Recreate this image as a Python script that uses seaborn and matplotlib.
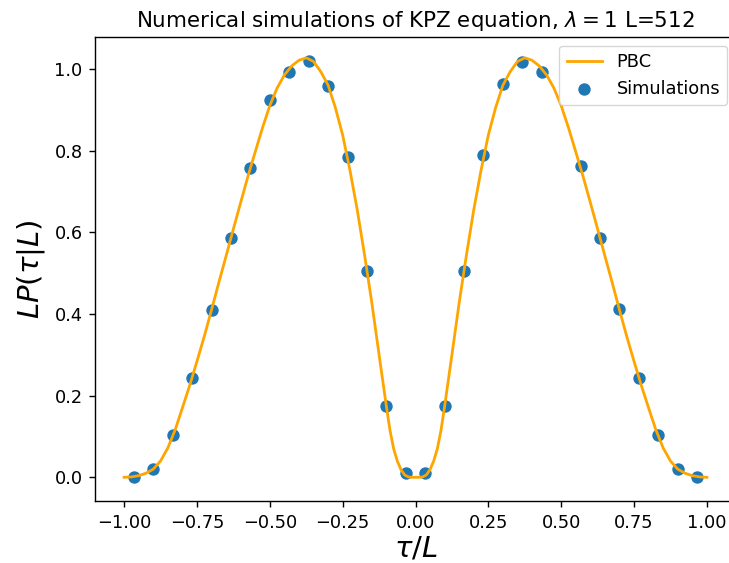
import matplotlib
matplotlib.use("Agg")
import matplotlib.pyplot as plt
import numpy as np
import seaborn as sn

# PBC prediction curve (denser near the zero dip)
tau_curve = [-1.000, -0.975, -0.950, -0.925, -0.900, -0.875, -0.850, -0.825, -0.800, -0.775,
             -0.750, -0.725, -0.700, -0.675, -0.650, -0.625, -0.600, -0.575, -0.550, -0.525,
             -0.500, -0.475, -0.450, -0.425, -0.400, -0.375, -0.350, -0.325, -0.300, -0.275,
             -0.250, -0.225, -0.200, -0.175, -0.150, -0.125, -0.1125, -0.100, -0.0875, -0.075,
             -0.0625, -0.050, -0.0375, -0.025, -0.0125, 0.000, 0.0125, 0.025, 0.0375, 0.050,
             0.0625, 0.075, 0.0875, 0.100, 0.1125, 0.125, 0.150, 0.175, 0.200, 0.225,
             0.250, 0.275, 0.300, 0.325, 0.350, 0.375, 0.400, 0.425, 0.450, 0.475,
             0.500, 0.525, 0.550, 0.575, 0.600, 0.625, 0.650, 0.675, 0.700, 0.725,
             0.750, 0.775, 0.800, 0.825, 0.850, 0.875, 0.900, 0.925, 0.950, 0.975, 1.000]
p_curve = [0.000, 0.001, 0.004, 0.010, 0.020, 0.040, 0.072, 0.116, 0.170, 0.225,
           0.284, 0.345, 0.410, 0.477, 0.542, 0.608, 0.673, 0.737, 0.797, 0.856,
           0.910, 0.953, 0.985, 1.007, 1.021, 1.027, 1.018, 0.993, 0.960, 0.905,
           0.838, 0.752, 0.655, 0.545, 0.428, 0.300, 0.237, 0.174, 0.115, 0.070,
           0.040, 0.019, 0.006, 0.001, 0.000, 0.000, 0.000, 0.001, 0.006, 0.019,
           0.040, 0.070, 0.115, 0.174, 0.237, 0.300, 0.428, 0.545, 0.655, 0.752,
           0.838, 0.905, 0.960, 0.993, 1.018, 1.027, 1.021, 1.007, 0.985, 0.953,
           0.910, 0.856, 0.797, 0.737, 0.673, 0.608, 0.542, 0.477, 0.410, 0.345,
           0.284, 0.225, 0.170, 0.116, 0.072, 0.040, 0.020, 0.010, 0.004, 0.001, 0.000]

# simulation points (the one near 0.5 sits under the legend and is not visible)
tau_sim = [-0.967, -0.900, -0.833, -0.767, -0.700, -0.633, -0.567, -0.500, -0.433, -0.367,
           -0.300, -0.233, -0.167, -0.100, -0.033, 0.033, 0.100, 0.167, 0.233, 0.300,
           0.367, 0.433, 0.567, 0.633, 0.700, 0.767, 0.833, 0.900, 0.967]
p_sim = [0.000, 0.020, 0.103, 0.242, 0.409, 0.587, 0.758, 0.924, 0.993, 1.020,
         0.959, 0.785, 0.506, 0.174, 0.011, 0.011, 0.174, 0.506, 0.788, 0.962,
         1.018, 0.992, 0.761, 0.585, 0.411, 0.244, 0.103, 0.020, 0.000]

xticks = [-1.0, -0.75, -0.5, -0.25, 0.0, 0.25, 0.5, 0.75, 1.0]
yticks = [0.0, 0.2, 0.4, 0.6, 0.8, 1.0]

fig = plt.figure(figsize=(7.29, 5.63), dpi=100)
ax = fig.add_axes([95 / 729, 62 / 563, 641 / 729, 464 / 563])

sn.lineplot(x=tau_curve, y=p_curve, color='orange', linewidth=2.0, label='PBC', ax=ax, sort=False)
sn.scatterplot(x=tau_sim, y=p_sim, color='#1f77b4', s=80, linewidth=0, label='Simulations', ax=ax)

ax.set_xlim(-1.1, 1.1)
ax.set_ylim(-0.058, 1.078)
ax.set_xticks(xticks)
ax.set_xticklabels([('%.2f' % t).replace('-', '\u2212') for t in xticks])
ax.set_yticks(yticks)
ax.set_yticklabels(['%.1f' % t for t in yticks])
ax.tick_params(labelsize=12.8, length=4.5, width=1.0, pad=4.5)
for sp in ax.spines.values():
    sp.set_linewidth(1.0)

ax.set_title(r'Numerical simulations of KPZ equation, $\lambda=1$ L=512', fontsize=15.4, pad=7.5)
ax.set_xlabel(r'$\tau/L$', fontsize=21, labelpad=2)
ax.set_ylabel(r'$LP(\tau|L)$', fontsize=21, labelpad=5)
ax.legend(loc='upper right', fontsize=12.8)

fig.savefig('out.png', dpi=100)
